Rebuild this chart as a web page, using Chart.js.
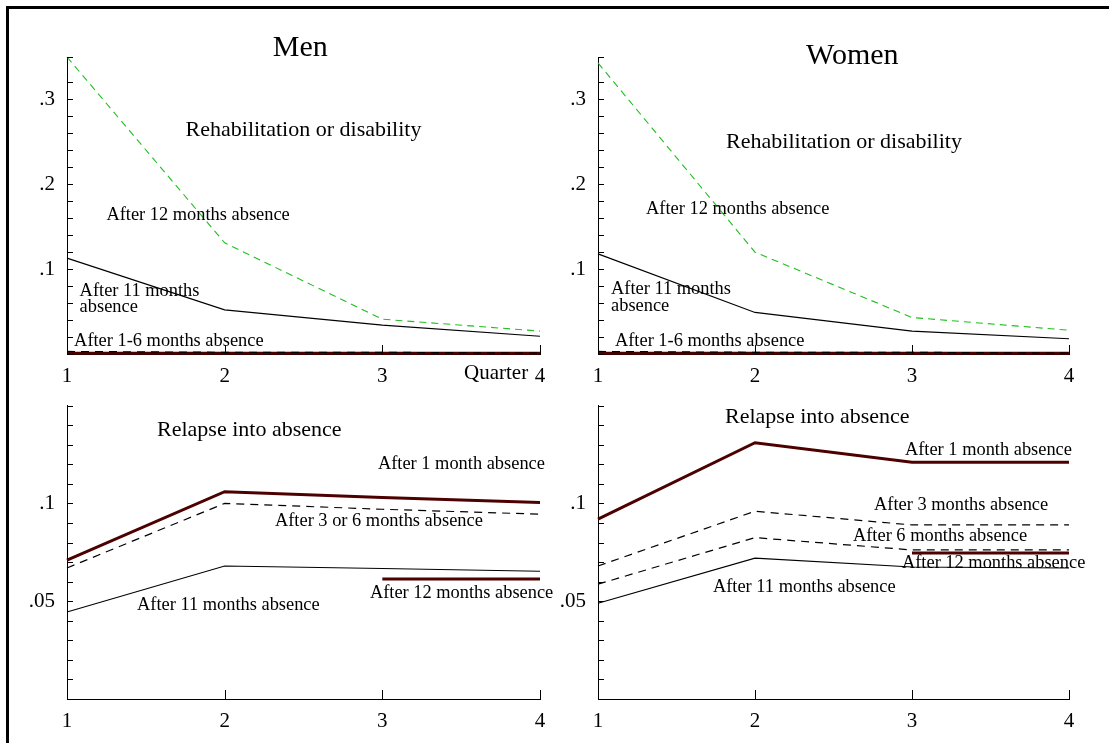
<!DOCTYPE html>
<html>
<head>
<meta charset="utf-8">
<script src="https://cdn.jsdelivr.net/npm/chart.js@4.4.1/dist/chart.umd.min.js"></script>
<style>
  html, body { margin: 0; padding: 0; background: #fff; }
  body { width: 1109px; height: 743px; position: relative; overflow: hidden; }
  .frame { position: absolute; left: 6px; top: 6px; width: 1200px; height: 800px;
           border-left: 3px solid #000; border-top: 3px solid #000; }
  canvas { position: absolute; }
</style>
</head>
<body>
<div class="frame"></div>
<canvas id="menRehab" width="552" height="389" style="left:8px;top:0px"></canvas>
<canvas id="womenRehab" width="549" height="389" style="left:560px;top:0px"></canvas>
<canvas id="menRelapse" width="552" height="351" style="left:8px;top:389px"></canvas>
<canvas id="womenRelapse" width="549" height="351" style="left:560px;top:389px"></canvas>
<script>
// --- datos ---
const quarters = ['1', '2', '3', '4'];

// Rehabilitación o discapacidad
const menRehab12 = [0.350, 0.131, 0.041, 0.027];
const menRehab11 = [0.113, 0.052, 0.034, 0.021];
const menRehab1to6Dash = [0.003, 0.002, 0.002, 0.001];
const menRehab1to6Thick = [0.001, 0.001, 0.001, 0.001];
const womenRehab12 = [0.343, 0.120, 0.043, 0.028];
const womenRehab11 = [0.118, 0.049, 0.027, 0.018];
const womenRehab1to6Dash = [0.003, 0.002, 0.002, 0.001];
const womenRehab1to6Thick = [0.001, 0.001, 0.001, 0.001];

// Recaída
const menRelapse1 = [0.071, 0.106, 0.103, 0.1005];
const menRelapse3or6 = [0.067, 0.100, 0.097, 0.0945];
const menRelapse11 = [0.0445, 0.068, 0.0667, 0.0653];
const menRelapse12 = [null, null, 0.0613, 0.0613];
const womenRelapse1 = [0.092, 0.131, 0.121, 0.121];
const womenRelapse3 = [0.068, 0.096, 0.089, 0.089];
const womenRelapse6 = [0.0587, 0.0825, 0.0762, 0.0762];
const womenRelapse11 = [0.049, 0.072, 0.0675, 0.067];
const womenRelapse12 = [null, null, 0.0747, 0.0747];

const rehabTickLabels = [0.1, 0.2, 0.3];
const relapseTickLabels = [0.05, 0.1];

const FONT = "'Liberation Serif', 'Times New Roman', serif";
const maroon = '#4d0000';
const green = '#1fbf1f';

// estilos de línea
const thinSolid = (data) => ({ data, borderColor: '#000', borderWidth: 1.1 });
const dashBlack = (data) => ({ data, borderColor: '#000', borderWidth: 1.2, borderDash: [8, 6] });
const dashGreen = (data) => ({ data, borderColor: green, borderWidth: 1.1, borderDash: [7, 5] });
const thickMaroon = (data) => ({ data, borderColor: maroon, borderWidth: 3 });

// plugin: marcas hacia dentro + textos sobre el gráfico
const notesPlugin = {
    id: 'notes',
    afterDraw(chart) {
        const ctx = chart.ctx;
        const area = chart.chartArea;
        const xs = chart.scales.x;
        const ys = chart.scales.y;
        ctx.save();
        ctx.strokeStyle = '#000';
        ctx.lineWidth = 1;
        ctx.beginPath();
        ys.ticks.forEach(t => {
            const py = Math.round(ys.getPixelForValue(t.value)) + 0.5;
            ctx.moveTo(area.left, py);
            ctx.lineTo(area.left + 6, py);
        });
        xs.ticks.forEach((t, i) => {
            const px = Math.round(xs.getPixelForTick(i)) + 0.5;
            ctx.moveTo(px, area.bottom);
            ctx.lineTo(px, area.bottom - 9);
        });
        ctx.stroke();

        const notes = chart.options.plugins.notes.items || [];
        ctx.fillStyle = '#000';
        ctx.textBaseline = 'middle';
        notes.forEach(n => {
            ctx.font = n.size + 'px ' + FONT;
            ctx.textAlign = n.align || 'left';
            const px = area.left + (n.x - 1) / 3 * (area.right - area.left);
            const py = ys.getPixelForValue(n.y);
            ctx.fillText(n.text, px, py);
        });
        ctx.restore();
    }
};

function crearPanel(id, datasets, yMax, step, labels, notes, yWidth, pad) {
    return new Chart(document.getElementById(id), {
        type: 'line',
        data: { labels: quarters, datasets },
        options: {
            responsive: false,
            animation: false,
            layout: { padding: pad },
            elements: { point: { radius: 0 }, line: { tension: 0 } },
            datasets: { line: { clip: false, spanGaps: false } },
            plugins: {
                legend: { display: false },
                tooltip: { enabled: false },
                notes: { items: notes }
            },
            scales: {
                x: {
                    offset: false,
                    grid: { display: false },
                    border: { display: true, color: '#000', width: 1 },
                    ticks: { color: '#000', font: { family: FONT, size: 21 }, padding: 2, maxRotation: 0, autoSkip: false },
                    afterFit: s => { s.height = pad.bottomAxis; }
                },
                y: {
                    min: 0,
                    max: yMax,
                    grid: { display: false },
                    border: { display: true, color: '#000', width: 1 },
                    ticks: {
                        stepSize: step,
                        autoSkip: false,
                        color: '#000',
                        padding: 4,
                        font: { family: FONT, size: 21 },
                        callback: v => {
                            const hit = labels.find(l => Math.abs(l - v) < 1e-6);
                            return hit ? String(hit).replace('0.', '.') : '';
                        }
                    },
                    afterFit: s => { s.width = yWidth; }
                }
            }
        },
        plugins: [notesPlugin]
    });
}

crearPanel('menRehab', [
    dashGreen(menRehab12), thinSolid(menRehab11), dashBlack(menRehab1to6Dash), thickMaroon(menRehab1to6Thick)
], 0.35, 0.02, rehabTickLabels, [
    { text: 'Men', x: 2.48, y: 0.361, size: 30, align: 'center' },
    { text: 'Rehabilitation or disability', x: 2.50, y: 0.264, size: 22, align: 'center' },
    { text: 'After 12 months absence', x: 1.25, y: 0.1635, size: 18.4 },
    { text: 'After 11 months', x: 1.08, y: 0.074, size: 18.4 },
    { text: 'absence', x: 1.08, y: 0.055, size: 18.4 },
    { text: 'After 1-6 months absence', x: 1.045, y: 0.0153, size: 18.4 },
    { text: 'Quarter', x: 3.925, y: -0.0225, size: 21, align: 'right' }
], 59, { top: 57, right: 20, left: 0, bottom: 0, bottomAxis: 35 });

crearPanel('womenRehab', [
    dashGreen(womenRehab12), thinSolid(womenRehab11), dashBlack(womenRehab1to6Dash), thickMaroon(womenRehab1to6Thick)
], 0.35, 0.02, rehabTickLabels, [
    { text: 'Women', x: 2.62, y: 0.351, size: 30, align: 'center' },
    { text: 'Rehabilitation or disability', x: 2.567, y: 0.249, size: 22, align: 'center' },
    { text: 'After 12 months absence', x: 1.306, y: 0.1706, size: 18.4 },
    { text: 'After 11 months', x: 1.083, y: 0.0765, size: 18.4 },
    { text: 'absence', x: 1.083, y: 0.0565, size: 18.4 },
    { text: 'After 1-6 months absence', x: 1.108, y: 0.0153, size: 18.4 }
], 38, { top: 57, right: 40, left: 0, bottom: 0, bottomAxis: 35 });

crearPanel('menRelapse', [
    thickMaroon(menRelapse1), dashBlack(menRelapse3or6), thinSolid(menRelapse11), thickMaroon(menRelapse12)
], 0.15, 0.01, relapseTickLabels, [
    { text: 'Relapse into absence', x: 1.571, y: 0.1375, size: 22 },
    { text: 'After 1 month absence', x: 2.972, y: 0.12, size: 18.4 },
    { text: 'After 3 or 6 months absence', x: 2.319, y: 0.091, size: 18.4 },
    { text: 'After 12 months absence', x: 2.921, y: 0.054, size: 18.4 },
    { text: 'After 11 months absence', x: 1.444, y: 0.048, size: 18.4 }
], 59, { top: 11, right: 20, left: 0, bottom: 0, bottomAxis: 41 });

crearPanel('womenRelapse', [
    thickMaroon(womenRelapse1), dashBlack(womenRelapse3), dashBlack(womenRelapse6),
    thinSolid(womenRelapse11), thickMaroon(womenRelapse12)
], 0.15, 0.01, relapseTickLabels, [
    { text: 'Relapse into absence', x: 1.809, y: 0.144, size: 22 },
    { text: 'After 1 month absence', x: 2.955, y: 0.127, size: 18.4 },
    { text: 'After 3 months absence', x: 2.758, y: 0.099, size: 18.4 },
    { text: 'After 6 months absence', x: 2.624, y: 0.0835, size: 18.4 },
    { text: 'After 12 months absence', x: 2.936, y: 0.0695, size: 18.4 },
    { text: 'After 11 months absence', x: 1.732, y: 0.057, size: 18.4 }
], 38, { top: 11, right: 40, left: 0, bottom: 0, bottomAxis: 41 });
</script>
</body>
</html>
